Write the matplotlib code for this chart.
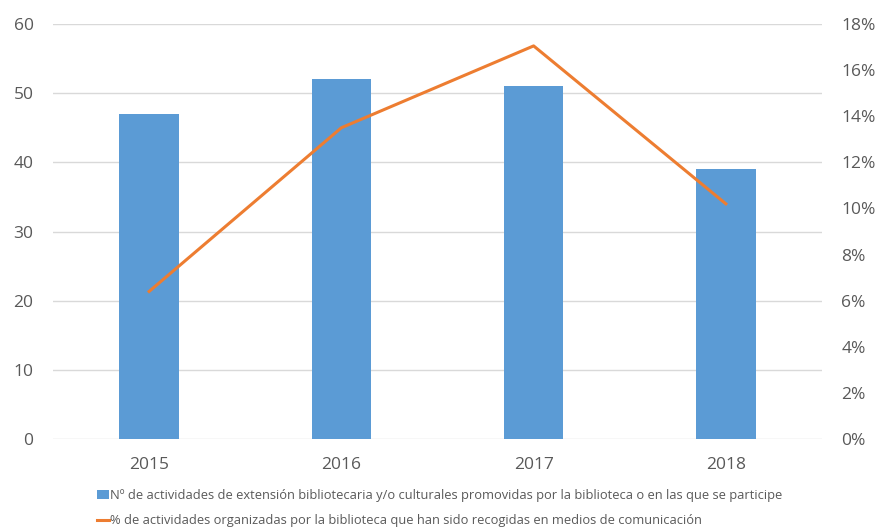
import matplotlib
matplotlib.use("Agg")
import matplotlib.pyplot as plt
from matplotlib.ticker import FuncFormatter

years = ["2015", "2016", "2017", "2018"]
actividades = [47, 52, 51, 39]
porcentaje = [6.4, 13.5, 17.05, 10.2]

bar_label = "Nº de actividades de extensión bibliotecaria y/o culturales promovidas por la biblioteca o en las que se participe"
line_label = "% de actividades organizadas por la biblioteca que han sido recogidas en medios de comunicación"

plt.rcParams['font.family'] = ['Open Sans', 'DejaVu Sans']
txt = '#595959'

fig = plt.figure(figsize=(8.75, 5.29), dpi=100)
ax = fig.add_axes([53/875, 1-439/529, (822-53)/875, (439-24)/529])
x = list(range(len(years)))
bars = ax.bar(x, actividades, width=0.31, color='#5b9bd5', zorder=3, label=bar_label)
ax.set_ylim(0, 60)
ax.set_xlim(-0.5, 3.5)
ax.set_yticks(range(0, 61, 10))
ax.set_xticks(x)
ax.set_xticklabels(years)
ax.grid(axis='y', color='#d9d9d9', linewidth=1, zorder=0)
for s in ax.spines.values():
    s.set_visible(False)
ax.tick_params(axis='both', length=0, labelsize=12.5, colors=txt, pad=14)
ax.tick_params(axis='x', pad=13)

ax2 = ax.twinx()
line, = ax2.plot(x, porcentaje, color='#ed7d31', linewidth=2.2, zorder=4, label=line_label)
ax2.set_ylim(0, 18)
ax2.set_yticks(range(0, 19, 2))
ax2.yaxis.set_major_formatter(FuncFormatter(lambda v, p: f"{int(v)}%"))
for s in ax2.spines.values():
    s.set_visible(False)
ax2.tick_params(axis='y', length=0, labelsize=12.5, colors=txt, pad=14)

fig.legend(handles=[bars, line], labels=[bar_label, line_label],
           loc='lower left', bbox_to_anchor=(88/875, -0.014), ncol=1, frameon=False,
           fontsize=9.3, labelcolor=txt, handlelength=0.9, handletextpad=0.1,
           labelspacing=0.95, borderaxespad=0.3)

fig.savefig("out.png", dpi=100)
